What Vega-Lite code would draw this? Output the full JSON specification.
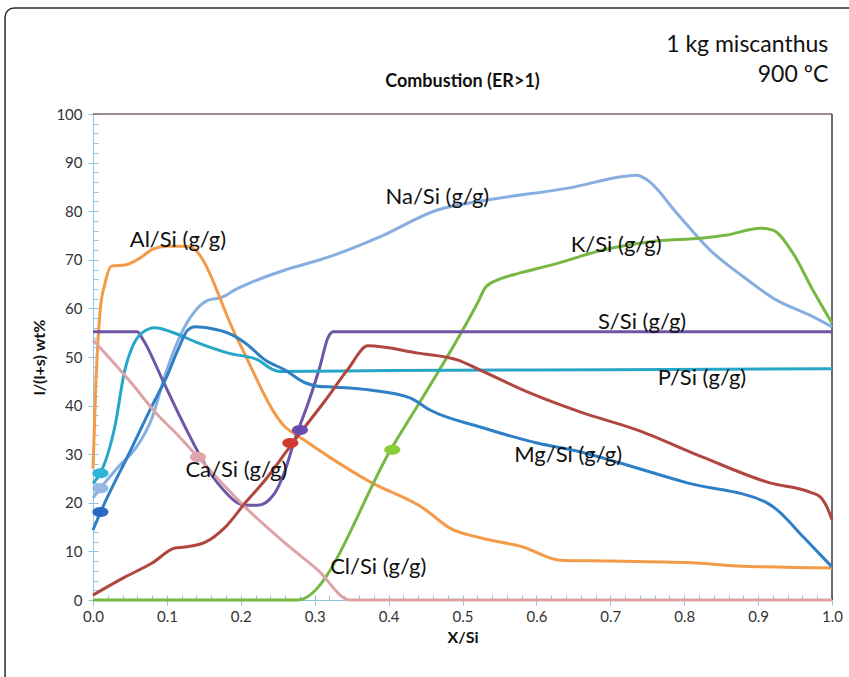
{
  "$schema": "https://vega.github.io/schema/vega-lite/v6.json",
  "width": 739,
  "height": 486,
  "autosize": {"type": "none"},
  "padding": {"left": 93, "top": 114, "right": 17, "bottom": 77},
  "background": "white",
  "config": {"view": {"stroke": null}, "font": "Lato"},
  "data": {"values": [{"one": 1}]},
  "datasets": {
    "lines": [
      {"s":"Na","x":0,"y":21},{"s":"Na","x":0.01,"y":23},{"s":"Na","x":0.035,"y":27.5},{"s":"Na","x":0.059,"y":31.5},{"s":"Na","x":0.08,"y":37.5},{"s":"Na","x":0.097,"y":46},{"s":"Na","x":0.11,"y":51.5},{"s":"Na","x":0.124,"y":56.2},{"s":"Na","x":0.14,"y":59.8},{"s":"Na","x":0.156,"y":61.7},{"s":"Na","x":0.175,"y":62.3},{"s":"Na","x":0.192,"y":63.8},{"s":"Na","x":0.215,"y":65.4},{"s":"Na","x":0.26,"y":67.9},{"s":"Na","x":0.307,"y":70},{"s":"Na","x":0.327,"y":71},{"s":"Na","x":0.388,"y":74.7},{"s":"Na","x":0.465,"y":80.2},{"s":"Na","x":0.533,"y":82.3},{"s":"Na","x":0.645,"y":84.8},{"s":"Na","x":0.72,"y":87.2},{"s":"Na","x":0.736,"y":87.4},{"s":"Na","x":0.75,"y":86.4},{"s":"Na","x":0.79,"y":79.6},{"s":"Na","x":0.835,"y":72},{"s":"Na","x":0.88,"y":66.5},{"s":"Na","x":0.925,"y":61.7},{"s":"Na","x":0.97,"y":58.6},{"s":"Na","x":1.0,"y":56.2},
      {"s":"Al","x":0,"y":27},{"s":"Al","x":0.004,"y":45},{"s":"Al","x":0.01,"y":60},{"s":"Al","x":0.016,"y":65},{"s":"Al","x":0.025,"y":68.7},{"s":"Al","x":0.045,"y":69},{"s":"Al","x":0.064,"y":70.4},{"s":"Al","x":0.081,"y":72.2},{"s":"Al","x":0.1,"y":72.8},{"s":"Al","x":0.127,"y":72.8},{"s":"Al","x":0.134,"y":72.5},{"s":"Al","x":0.196,"y":53.5},{"s":"Al","x":0.26,"y":35.6},{"s":"Al","x":0.28,"y":33.5},{"s":"Al","x":0.32,"y":29.4},{"s":"Al","x":0.375,"y":24.3},{"s":"Al","x":0.447,"y":18.9},{"s":"Al","x":0.483,"y":14.8},{"s":"Al","x":0.524,"y":12.8},{"s":"Al","x":0.582,"y":10.9},{"s":"Al","x":0.632,"y":8.2},{"s":"Al","x":0.7,"y":8},{"s":"Al","x":0.817,"y":7.6},{"s":"Al","x":0.871,"y":7},{"s":"Al","x":1.0,"y":6.6},
      {"s":"K","x":0,"y":0},{"s":"K","x":0.277,"y":0},{"s":"K","x":0.405,"y":31.5},{"s":"K","x":0.52,"y":61},{"s":"K","x":0.532,"y":64.5},{"s":"K","x":0.55,"y":66},{"s":"K","x":0.578,"y":67.3},{"s":"K","x":0.622,"y":69},{"s":"K","x":0.69,"y":72},{"s":"K","x":0.754,"y":73.7},{"s":"K","x":0.825,"y":74.5},{"s":"K","x":0.858,"y":75.1},{"s":"K","x":0.903,"y":76.5},{"s":"K","x":0.92,"y":76.1},{"s":"K","x":0.947,"y":71.4},{"s":"K","x":0.974,"y":63.8},{"s":"K","x":1.0,"y":57},
      {"s":"S","x":0,"y":55.2},{"s":"S","x":0.06,"y":55.2},{"s":"S","x":0.068,"y":53.5},{"s":"S","x":0.095,"y":45},{"s":"S","x":0.12,"y":37},{"s":"S","x":0.169,"y":24},{"s":"S","x":0.206,"y":19.5},{"s":"S","x":0.223,"y":19.5},{"s":"S","x":0.246,"y":22},{"s":"S","x":0.26,"y":26.7},{"s":"S","x":0.273,"y":33},{"s":"S","x":0.29,"y":40},{"s":"S","x":0.307,"y":48},{"s":"S","x":0.318,"y":54},{"s":"S","x":0.325,"y":55.2},{"s":"S","x":1.0,"y":55.2},
      {"s":"P","x":0,"y":24},{"s":"P","x":0.01,"y":26.1},{"s":"P","x":0.03,"y":36},{"s":"P","x":0.043,"y":47.3},{"s":"P","x":0.053,"y":52},{"s":"P","x":0.066,"y":54.9},{"s":"P","x":0.084,"y":56},{"s":"P","x":0.107,"y":55.1},{"s":"P","x":0.142,"y":52.9},{"s":"P","x":0.183,"y":50.8},{"s":"P","x":0.223,"y":49.4},{"s":"P","x":0.242,"y":47.5},{"s":"P","x":0.252,"y":47},{"s":"P","x":0.4,"y":47.2},{"s":"P","x":0.7,"y":47.4},{"s":"P","x":1.0,"y":47.6},
      {"s":"Mg","x":0,"y":14.4},{"s":"Mg","x":0.01,"y":18},{"s":"Mg","x":0.05,"y":30.5},{"s":"Mg","x":0.08,"y":40},{"s":"Mg","x":0.1,"y":46},{"s":"Mg","x":0.115,"y":51.5},{"s":"Mg","x":0.128,"y":55.5},{"s":"Mg","x":0.138,"y":56.2},{"s":"Mg","x":0.161,"y":55.8},{"s":"Mg","x":0.183,"y":54.9},{"s":"Mg","x":0.206,"y":52.9},{"s":"Mg","x":0.233,"y":49.4},{"s":"Mg","x":0.26,"y":47.3},{"s":"Mg","x":0.287,"y":44.7},{"s":"Mg","x":0.304,"y":44},{"s":"Mg","x":0.327,"y":43.8},{"s":"Mg","x":0.375,"y":43.2},{"s":"Mg","x":0.429,"y":41.6},{"s":"Mg","x":0.456,"y":39.1},{"s":"Mg","x":0.524,"y":35.6},{"s":"Mg","x":0.601,"y":32.3},{"s":"Mg","x":0.659,"y":30.5},{"s":"Mg","x":0.713,"y":28.2},{"s":"Mg","x":0.804,"y":24.1},{"s":"Mg","x":0.912,"y":20},{"s":"Mg","x":0.926,"y":18.5},{"s":"Mg","x":0.961,"y":13},{"s":"Mg","x":1.0,"y":6.8},
      {"s":"Ca","x":0,"y":53.5},{"s":"Ca","x":0.05,"y":45},{"s":"Ca","x":0.088,"y":38},{"s":"Ca","x":0.111,"y":34.5},{"s":"Ca","x":0.142,"y":29.4},{"s":"Ca","x":0.206,"y":19.1},{"s":"Ca","x":0.26,"y":11.7},{"s":"Ca","x":0.304,"y":6.2},{"s":"Ca","x":0.348,"y":0},{"s":"Ca","x":1.0,"y":0},
      {"s":"Cl","x":0,"y":1},{"s":"Cl","x":0.043,"y":4.7},{"s":"Cl","x":0.08,"y":7.6},{"s":"Cl","x":0.111,"y":10.7},{"s":"Cl","x":0.124,"y":10.9},{"s":"Cl","x":0.152,"y":11.9},{"s":"Cl","x":0.179,"y":15},{"s":"Cl","x":0.206,"y":20},{"s":"Cl","x":0.233,"y":24.7},{"s":"Cl","x":0.26,"y":30.2},{"s":"Cl","x":0.273,"y":32.9},{"s":"Cl","x":0.315,"y":41.2},{"s":"Cl","x":0.345,"y":47.5},{"s":"Cl","x":0.372,"y":52.3},{"s":"Cl","x":0.44,"y":50.8},{"s":"Cl","x":0.493,"y":49.4},{"s":"Cl","x":0.524,"y":47.3},{"s":"Cl","x":0.591,"y":42.6},{"s":"Cl","x":0.659,"y":38.7},{"s":"Cl","x":0.736,"y":35},{"s":"Cl","x":0.825,"y":29.4},{"s":"Cl","x":0.916,"y":24.1},{"s":"Cl","x":0.97,"y":22.2},{"s":"Cl","x":0.984,"y":21.2},{"s":"Cl","x":0.995,"y":18.5},{"s":"Cl","x":1.0,"y":16.5}
    ],
    "markers": [
      {"s":"P","x":0.01,"y":26.1},{"s":"Na","x":0.01,"y":23},{"s":"Mg","x":0.01,"y":18.1},{"s":"Ca","x":0.142,"y":29.4},{"s":"Cl","x":0.267,"y":32.3},{"s":"S","x":0.28,"y":35},{"s":"K","x":0.405,"y":30.9}
    ],
    "labels": [
      {"t":"Na/Si (g/g)","x":0.466,"y":82.9},{"t":"Al/Si (g/g)","x":0.115,"y":74.1},{"t":"K/Si (g/g)","x":0.708,"y":73.0},{"t":"S/Si (g/g)","x":0.743,"y":57.2},{"t":"P/Si (g/g)","x":0.824,"y":45.7},{"t":"Mg/Si (g/g)","x":0.643,"y":29.8},{"t":"Ca/Si (g/g)","x":0.194,"y":26.7},{"t":"Cl/Si (g/g)","x":0.386,"y":6.8}
    ],
    "notes": [
      {"t":"1 kg miscanthus","x":0.995,"y":114.2},{"t":"900 ºC","x":0.995,"y":108}
    ],
    "heading": [
      {"t":"Combustion (ER>1)","x":0.5,"y":106.6}
    ]
  },
  "layer": [
    {
      "mark": {"type": "rect", "filled": false, "color": "#2a2a2a", "strokeWidth": 1.5, "cornerRadius": 9, "clip": false},
      "encoding": {
        "x": {"datum": -0.119, "type": "quantitative", "scale": {"domain": [0, 1], "nice": false, "zero": false}, "axis": {"values": [0,0.1,0.2,0.3,0.4,0.5,0.6,0.7,0.8,0.9,1.0], "format": ".1f", "title": "X/Si", "titleFontWeight": "bold", "titleFontSize": 16, "titleColor": "#111", "titlePadding": 5, "labelFontSize": 15, "labelColor": "#333", "labelPadding": 4, "tickSize": 5, "domainColor": "#8fc4de", "tickColor": "#8fc4de", "grid": false, "labelFlush": false, "labelFont": "Lato", "titleFont": "Lato"}},
        "x2": {"datum": 1.06},
        "y": {"datum": 121.8, "type": "quantitative", "scale": {"domain": [0, 100], "nice": false, "zero": true}, "axis": {"values": [0,10,20,30,40,50,60,70,80,90,100], "title": "l/(l+s) wt%", "titleFontWeight": "bold", "titleFontSize": 16, "titleColor": "#111", "titlePadding": 8, "labelFontSize": 15, "labelColor": "#333", "labelPadding": 6, "tickSize": 5, "domainColor": "#8fc4de", "tickColor": "#8fc4de", "grid": false, "labelFont": "Lato", "titleFont": "Lato"}},
        "y2": {"datum": -20}
      }
    },
    {
      "mark": {"type": "rule", "color": "#7a6a66", "strokeWidth": 1.5},
      "encoding": {"y": {"datum": 100, "type": "quantitative", "axis": {"values": [0,2,4,6,8,10,12,14,16,18,20,22,24,26,28,30,32,34,36,38,40,42,44,46,48,50,52,54,56,58,60,62,64,66,68,70,72,74,76,78,80,82,84,86,88,90,92,94,96,98,100], "orient": "left", "labels": false, "domain": false, "tickSize": -5, "tickColor": "#8fc4de", "title": null, "grid": false}}}
    },
    {
      "mark": {"type": "rule", "color": "#3a3a3a", "strokeWidth": 1.5},
      "encoding": {"x": {"datum": 1.0, "type": "quantitative", "axis": {"values": [0,0.02,0.04,0.06,0.08,0.1,0.12,0.14,0.16,0.18,0.2,0.22,0.24,0.26,0.28,0.3,0.32,0.34,0.36,0.38,0.4,0.42,0.44,0.46,0.48,0.5,0.52,0.54,0.56,0.58,0.6,0.62,0.64,0.66,0.68,0.7,0.72,0.74,0.76,0.78,0.8,0.82,0.84,0.86,0.88,0.9,0.92,0.94,0.96,0.98,1.0], "orient": "bottom", "labels": false, "domain": false, "tickSize": -5, "tickColor": "#8fc4de", "title": null, "grid": false}}}
    },
    {
      "data": {"name": "lines"},
      "mark": {"type": "line", "strokeWidth": 3, "interpolate": "monotone"},
      "encoding": {
        "x": {"field": "x", "type": "quantitative", "axis": null},
        "y": {"field": "y", "type": "quantitative", "axis": null},
        "color": {"field": "s", "type": "nominal", "legend": null, "scale": {"domain": ["Ca","K","Al","Na","Cl","Mg","P","S"], "range": ["#dda4a8","#76b843","#f39b48","#86aee0","#b0463f","#2e7fc6","#27a6c8","#6f55a8"]}},
        "order": {"field": "x", "type": "quantitative"}
      }
    },
    {
      "data": {"name": "markers"},
      "mark": {"type": "point", "filled": true, "opacity": 1, "size": 260, "shape": "M-1,0A1,0.62 0 1,1 1,0A1,0.62 0 1,1 -1,0Z"},
      "encoding": {
        "x": {"field": "x", "type": "quantitative", "axis": null},
        "y": {"field": "y", "type": "quantitative", "axis": null},
        "color": {"field": "s", "type": "nominal", "legend": null, "scale": {"domain": ["Ca","K","Al","Na","Cl","Mg","P","S"], "range": ["#e0a6ac","#8ccd3c","#f39b48","#93b9e4","#d23a30","#2a6ac6","#2cb5d8","#6a4cb0"]}}
      }
    },
    {
      "data": {"name": "labels"},
      "mark": {"type": "text", "fontSize": 22, "font": "Lato", "color": "#111", "align": "center", "baseline": "middle"},
      "encoding": {
        "x": {"field": "x", "type": "quantitative", "axis": null},
        "y": {"field": "y", "type": "quantitative", "axis": null},
        "text": {"field": "t"}
      }
    },
    {
      "data": {"name": "notes"},
      "mark": {"type": "text", "fontSize": 23, "font": "Lato", "color": "#111", "align": "right", "baseline": "middle", "clip": false},
      "encoding": {
        "x": {"field": "x", "type": "quantitative", "axis": null},
        "y": {"field": "y", "type": "quantitative", "axis": null},
        "text": {"field": "t"}
      }
    },
    {
      "data": {"name": "heading"},
      "mark": {"type": "text", "fontSize": 18, "font": "Lato", "fontWeight": "bold", "color": "#111", "align": "center", "baseline": "middle", "clip": false},
      "encoding": {
        "x": {"field": "x", "type": "quantitative", "axis": null},
        "y": {"field": "y", "type": "quantitative", "axis": null},
        "text": {"field": "t"}
      }
    }
  ],
  "resolve": {"axis": {"x": "independent", "y": "independent"}, "scale": {"color": "independent"}}
}
